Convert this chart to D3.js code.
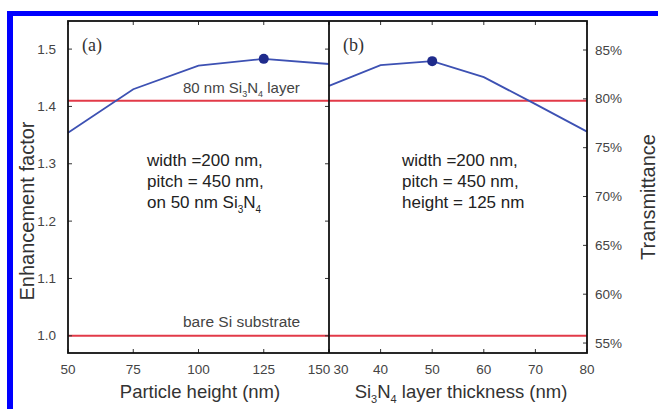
<!DOCTYPE html>
<html>
<head>
<meta charset="utf-8">
<script src="https://cdn.jsdelivr.net/npm/d3@7"></script>
<style>
  body { margin: 0; background: #fff; }
  svg { display: block; font-family: 'Liberation Sans', Arial, sans-serif; }
</style>
</head>
<body>
<div id="chart"></div>
<script>
// panel (a): enhancement vs particle height
const heightX = [50, 75, 100, 125, 150];
const heightY = [1.354, 1.43, 1.471, 1.483, 1.474];
// panel (b): enhancement vs Si3N4 thickness
const thickX = [30, 40, 50, 60, 70, 80];
const thickY = [1.436, 1.472, 1.479, 1.451, 1.404, 1.356];
// reference levels
const refLevels = [1.41, 1.0];
const ticksA = [50, 75, 100, 125, 150];
const ticksB = [30, 40, 50, 60, 70, 80];
const ticksLeft = [1.0, 1.1, 1.2, 1.3, 1.4, 1.5];
const ticksRight = [55, 60, 65, 70, 75, 80, 85];

const W = 658, H = 409;
const svg = d3.select('#chart').append('svg').attr('width', W).attr('height', H);

// blue frame (top + left only)
svg.append('rect').attr('x', 7).attr('y', 11).attr('width', W - 7).attr('height', 5).attr('fill', '#0000ff');
svg.append('rect').attr('x', 7).attr('y', 11).attr('width', 6).attr('height', H - 11).attr('fill', '#0000ff');

const plotTop = 21, plotBottom = 353;
const y = d3.scaleLinear().domain([0.97, 1.549]).range([plotBottom, plotTop]);
const yR = d3.scaleLinear().domain([53.98, 87.97]).range([plotBottom, plotTop]);
const xa = d3.scaleLinear().domain([50, 150]).range([68, 329]);
const xb = d3.scaleLinear().domain([30, 80]).range([329, 587]);

const line = (xs) => d3.line().x((d) => xs(d[0])).y((d) => y(d[1]));
const tickCol = '#444';

function panel(xs, xsTicks, xData, yData, label) {
  const [x0, x1] = xs.range();
  const g = svg.append('g');
  // reference red lines
  g.selectAll('line.ref').data(refLevels).enter().append('line')
    .attr('x1', x0).attr('x2', x1).attr('y1', (d) => y(d)).attr('y2', (d) => y(d))
    .attr('stroke', '#e23a48').attr('stroke-width', 2);
  // inward ticks
  g.selectAll('line.bt').data(xsTicks).enter().append('line')
    .attr('x1', (d) => xs(d)).attr('x2', (d) => xs(d)).attr('y1', plotBottom).attr('y2', plotBottom - 4)
    .attr('stroke', '#333').attr('stroke-width', 1);
  g.selectAll('line.tt').data(xsTicks).enter().append('line')
    .attr('x1', (d) => xs(d)).attr('x2', (d) => xs(d)).attr('y1', plotTop).attr('y2', plotTop + 4)
    .attr('stroke', '#333').attr('stroke-width', 1);
  // data line
  const pts = xData.map((d, i) => [d, yData[i]]);
  g.append('path').datum(pts).attr('d', line(xs))
    .attr('fill', 'none').attr('stroke', '#3d51b3').attr('stroke-width', 1.8);
  const best = pts.reduce((a, b) => (b[1] > a[1] ? b : a));
  g.append('circle').attr('cx', xs(best[0])).attr('cy', y(best[1])).attr('r', 5).attr('fill', '#1f2b8c');
  // tick labels
  g.selectAll('text.xt').data(xsTicks).enter().append('text')
    .attr('x', (d, i) => xs(d) + (i === xsTicks.length - 1 && x1 < 400 ? -10 : 0) + (i === 0 && x0 > 300 ? 12 : 0))
    .attr('y', 374)
    .attr('text-anchor', 'middle').attr('font-size', 13.5).attr('fill', tickCol)
    .text((d) => d);
  g.append('text').attr('x', x0 + 14).attr('y', 51)
    .attr('font-family', 'Liberation Serif, Times New Roman, serif').attr('font-size', 18).attr('fill', '#333')
    .text(label);
}

panel(xa, ticksA, heightX, heightY, '(a)');
panel(xb, ticksB, thickX, thickY, '(b)');

// left axis ticks (both sides of panel a)
[68, 329].forEach((xx, k) => {
  svg.selectAll(null).data(ticksLeft).enter().append('line')
    .attr('x1', xx).attr('x2', xx + (k === 0 ? 4 : -4)).attr('y1', (d) => y(d)).attr('y2', (d) => y(d))
    .attr('stroke', '#333').attr('stroke-width', 1);
});
svg.selectAll('text.yl').data(ticksLeft).enter().append('text')
  .attr('x', 56).attr('y', (d) => y(d) + 4.5).attr('text-anchor', 'end')
  .attr('font-size', 13.5).attr('fill', tickCol).text((d) => d3.format('.1f')(d));

// right axis ticks
svg.selectAll('line.yr').data(ticksRight).enter().append('line')
  .attr('x1', 587).attr('x2', 583).attr('y1', (d) => yR(d)).attr('y2', (d) => yR(d))
  .attr('stroke', '#333').attr('stroke-width', 1);
svg.selectAll('text.yr').data(ticksRight).enter().append('text')
  .attr('x', 595).attr('y', (d) => yR(d) + 4.5)
  .attr('font-size', 13.5).attr('fill', tickCol).text((d) => d + '%');

// frames
svg.append('rect').attr('x', 68).attr('y', plotTop).attr('width', 587 - 68).attr('height', plotBottom - plotTop)
  .attr('fill', 'none').attr('stroke', '#111').attr('stroke-width', 1.8);
svg.append('line').attr('x1', 329).attr('x2', 329).attr('y1', plotTop).attr('y2', plotBottom)
  .attr('stroke', '#111').attr('stroke-width', 1.8);

// reference labels
const lab1 = svg.append('text').attr('x', 183).attr('y', 93).attr('font-size', 15).attr('fill', '#444');
lab1.append('tspan').text('80 nm Si');
lab1.append('tspan').text('3').attr('font-size', 9).attr('dy', 4);
lab1.append('tspan').text('N').attr('dy', -4);
lab1.append('tspan').text('4').attr('font-size', 9).attr('dy', 4);
lab1.append('tspan').text(' layer').attr('dy', -4);

svg.append('text').attr('x', 183).attr('y', 327).attr('font-size', 15.5).attr('fill', '#444')
  .text('bare Si substrate');

// annotations
const noteFont = 17;
const noteA = ['width =200 nm,', 'pitch = 450 nm,'];
noteA.forEach((t, i) => {
  svg.append('text').attr('x', 147).attr('y', 166 + i * 21).attr('font-size', noteFont).attr('fill', '#222').text(t);
});
const l3 = svg.append('text').attr('x', 147).attr('y', 208).attr('font-size', noteFont).attr('fill', '#222');
l3.append('tspan').text('on 50 nm Si');
l3.append('tspan').text('3').attr('font-size', 10).attr('dy', 5);
l3.append('tspan').text('N').attr('dy', -5);
l3.append('tspan').text('4').attr('font-size', 10).attr('dy', 5);

const noteB = ['width =200 nm,', 'pitch = 450 nm,', 'height = 125 nm'];
noteB.forEach((t, i) => {
  svg.append('text').attr('x', 402).attr('y', 166 + i * 21).attr('font-size', noteFont).attr('fill', '#222').text(t);
});

// axis titles
svg.append('text').attr('x', 200).attr('y', 398).attr('text-anchor', 'middle')
  .attr('font-size', 18.5).attr('fill', '#333').text('Particle height (nm)');
const tb = svg.append('text').attr('x', 461).attr('y', 398).attr('text-anchor', 'middle')
  .attr('font-size', 18.5).attr('fill', '#333');
tb.append('tspan').text('Si');
tb.append('tspan').text('3').attr('font-size', 11).attr('dy', 5);
tb.append('tspan').text('N').attr('dy', -5);
tb.append('tspan').text('4').attr('font-size', 11).attr('dy', 5);
tb.append('tspan').text(' layer thickness (nm)').attr('dy', -5);

svg.append('text').attr('transform', 'translate(34,211) rotate(-90)').attr('text-anchor', 'middle')
  .attr('font-size', 20).attr('fill', '#333').text('Enhancement factor');
svg.append('text').attr('transform', 'translate(655,197) rotate(-90)').attr('text-anchor', 'middle')
  .attr('font-size', 20).attr('fill', '#333').text('Transmittance');
</script>
</body>
</html>
